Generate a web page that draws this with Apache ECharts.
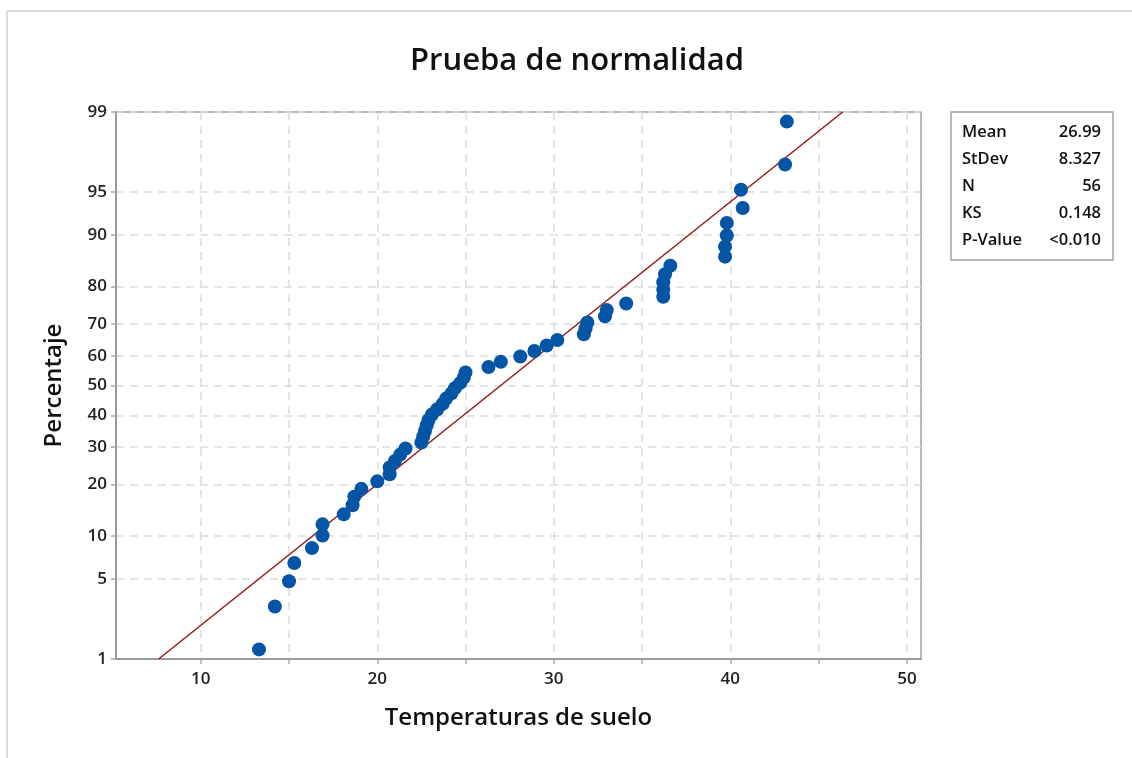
<!DOCTYPE html>
<html>
<head>
<meta charset="utf-8">
<script src="https://cdn.jsdelivr.net/npm/echarts@6/dist/echarts.min.js"></script>
<style>
html,body{margin:0;padding:0;background:#fff;}
#chart{width:1132px;height:758px;}
</style>
</head>
<body>
<div id="chart"></div>
<script>
// ---- data ----
const temperatures = [13.3,14.2,15.0,15.3,16.3,16.9,16.9,18.1,18.6,18.7,19.1,20.0,20.7,20.7,21.0,21.3,21.6,
  22.5,22.6,22.7,22.8,22.9,23.1,23.4,23.7,23.9,24.2,24.4,24.7,24.9,25.0,26.3,27.0,28.1,28.9,29.6,30.2,
  31.7,31.8,31.9,32.9,33.0,34.1,36.2,36.2,36.2,36.3,36.6,39.7,39.7,39.8,39.8,40.7,40.6,43.1,43.2];
const percents = [1.24,3.01,4.79,6.56,8.33,10.11,11.88,13.65,15.43,17.20,18.97,20.74,22.52,24.29,26.06,27.84,29.61,
  31.38,33.16,34.93,36.70,38.48,40.25,42.02,43.79,45.57,47.34,49.11,50.89,52.66,54.43,56.21,57.98,59.75,61.52,63.30,65.07,
  66.84,68.62,70.39,72.16,73.94,75.71,77.48,79.26,81.03,82.80,84.57,86.35,88.12,89.89,91.67,93.44,95.21,96.99,98.76];
const yTickPercents = [1,5,10,20,30,40,50,60,70,80,90,95,99];
const xTickLabels = [10,20,30,40,50];
const xGridValues = [10,15,20,25,30,35,40,45,50];
const statNames = ['Mean','StDev','N','KS','P-Value'];
const statValues = ['26.99','8.327','56','0.148','<0.010'];
const fitMean = 26.99, fitStDev = 8.327;

// ---- normal probability scale (inverse normal CDF) ----
function probit(p){
  const a=[-3.969683028665376e+01,2.209460984245205e+02,-2.759285104469687e+02,1.383577518672690e+02,-3.066479806614716e+01,2.506628277459239e+00];
  const b=[-5.447609879822406e+01,1.615858368580409e+02,-1.556989798598866e+02,6.680131188771972e+01,-1.328068155288572e+01];
  const c=[-7.784894002430293e-03,-3.223964580411365e-01,-2.400758277161838e+00,-2.549732539343734e+00,4.374664141464968e+00,2.938163982698783e+00];
  const d=[7.784695709041462e-03,3.224671290700398e-01,2.445134137142996e+00,3.754408661907416e+00];
  const pl=0.02425;
  let q,r;
  if(p<pl){q=Math.sqrt(-2*Math.log(p));return (((((c[0]*q+c[1])*q+c[2])*q+c[3])*q+c[4])*q+c[5])/((((d[0]*q+d[1])*q+d[2])*q+d[3])*q+1);}
  if(p<=1-pl){q=p-0.5;r=q*q;return (((((a[0]*r+a[1])*r+a[2])*r+a[3])*r+a[4])*r+a[5])*q/(((((b[0]*r+b[1])*r+b[2])*r+b[3])*r+b[4])*r+1);}
  q=Math.sqrt(-2*Math.log(1-p));return -(((((c[0]*q+c[1])*q+c[2])*q+c[3])*q+c[4])*q+c[5])/((((d[0]*q+d[1])*q+d[2])*q+d[3])*q+1);
}
const yTickValues = yTickPercents.map(p=>probit(p/100));
const yMin = probit(0.01), yMax = probit(0.99);
const points = temperatures.map((t,i)=>[t, probit(percents[i]/100)]);
const fitLine = [[fitMean + yMin*fitStDev, yMin],[fitMean + yMax*fitStDev, yMax]];

const FONT = '"Open Sans","Noto Sans",sans-serif';
const chart = echarts.init(document.getElementById('chart'));

const statsGraphic = [];
statNames.forEach((n,i)=>{
  statsGraphic.push({type:'text',left:962,top:124+i*27,style:{text:n,font:'600 16.5px '+FONT,fill:'#111'}});
  statsGraphic.push({type:'text',right:1132-1101,top:124+i*27,style:{text:statValues[i],font:'600 16.5px '+FONT,fill:'#111',align:'right'}});
});

chart.setOption({
  backgroundColor:'#fff',
  animation:false,
  title:{text:'Prueba de normalidad',left:572,top:41,textAlign:'center',
    textStyle:{fontFamily:FONT,fontSize:31,fontWeight:600,color:'#111'}},
  grid:{left:116,right:211,top:112,bottom:99,show:true,borderColor:'#a0a0a0',borderWidth:1.5,backgroundColor:'transparent'},
  xAxis:{type:'value',min:5.2,max:50.8,
    name:'Temperaturas de suelo',nameLocation:'middle',nameGap:47,
    nameTextStyle:{fontFamily:FONT,fontSize:24,fontWeight:600,color:'#111'},
    axisLine:{show:true,onZero:false,lineStyle:{color:'#9a9a9a',width:2}},
    axisTick:{show:true,customValues:xGridValues,length:5,lineStyle:{color:'#aaa',width:1.5}},
    axisLabel:{customValues:xTickLabels,margin:12,fontFamily:FONT,fontSize:17,fontWeight:600,color:'#222'},
    splitLine:{show:true,lineStyle:{color:'#dcdcdc',width:1.5,type:[8,6]}}
  },
  yAxis:{type:'value',min:yMin,max:yMax,
    name:'Percentaje',nameLocation:'middle',nameGap:50,
    nameTextStyle:{fontFamily:FONT,fontSize:24,fontWeight:600,color:'#111'},
    axisLine:{show:true,onZero:false,lineStyle:{color:'#9a9a9a',width:2}},
    axisTick:{show:true,customValues:yTickValues,length:5,lineStyle:{color:'#aaa',width:1.5}},
    axisLabel:{customValues:yTickValues,margin:9,fontFamily:FONT,fontSize:17,fontWeight:600,color:'#222',
      formatter:function(v){
        for(let i=0;i<yTickValues.length;i++){ if(Math.abs(yTickValues[i]-v)<1e-6) return String(yTickPercents[i]); }
        return '';
      }},
    splitLine:{show:true,lineStyle:{color:'#dcdcdc',width:1.5,type:[8,6]}}
  },
  series:[
    {type:'line',data:fitLine,symbol:'none',lineStyle:{color:'#9c1a1a',width:1.6},z:2,silent:true},
    {type:'scatter',data:points,symbol:'circle',symbolSize:14,itemStyle:{color:'#0455a5',opacity:1},z:3}
  ],
  graphic:[
    {type:'line',shape:{x1:7,y1:11,x2:1132,y2:11},style:{stroke:'#cfcfcf',lineWidth:1.5}},
    {type:'line',shape:{x1:7,y1:11,x2:7,y2:758},style:{stroke:'#cfcfcf',lineWidth:1.5}},
    {type:'rect',shape:{x:951,y:112,width:162,height:148},style:{fill:'#fff',stroke:'#a0a0a0',lineWidth:1.5}},
    ...statsGraphic
  ]
});
</script>
</body>
</html>
